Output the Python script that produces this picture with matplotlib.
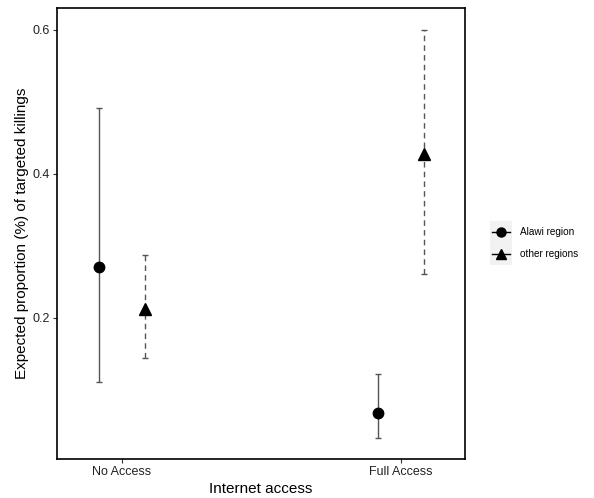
import numpy as np
import matplotlib
matplotlib.use("Agg")
import matplotlib.pyplot as plt
from matplotlib.lines import Line2D
from matplotlib.patches import Rectangle

plt.rcParams["font.family"] = ["Liberation Sans", "DejaVu Sans"]

access = ["No Access", "Full Access"]
groups = ["Alawi region", "other regions"]

alawi_est = [0.271, 0.068]
alawi_lo = [0.111, 0.033]
alawi_hi = [0.492, 0.122]

other_est = [0.212, 0.428]
other_lo = [0.144, 0.261]
other_hi = [0.287, 0.600]

fig = plt.figure(figsize=(5.94, 4.98), dpi=100)
ax = fig.add_axes([57 / 594, 1 - 459 / 498, 408 / 594, 451 / 498])

x = np.arange(1, len(access) + 1)
dodge = 0.083
series = [
    (alawi_est, alawi_lo, alawi_hi, "o", "-", -dodge, 7.5),
    (other_est, other_lo, other_hi, "^", (0, (4, 3)), dodge, 8),
]
for est, lo, hi, mk, ls, off, ms in series:
    est = np.array(est)
    yerr = [est - np.array(lo), np.array(hi) - est]
    eb = ax.errorbar(x + off, est, yerr=yerr, fmt="none", ecolor="#555555",
                     elinewidth=1.0, capsize=2.2, capthick=1.0)
    eb[2][0].set_linestyle(ls)
    ax.plot(x + off, est, linestyle="none", marker=mk, color="black",
            markersize=ms, zorder=3)

ax.set_xlim(0.767, 2.23)
ax.set_ylim(0.004, 0.6305)
ax.set_xticks(x)
ax.set_xticklabels(access)
ax.set_yticks([0.2, 0.4, 0.6])
ax.set_yticklabels(["0.2", "0.4", "0.6"])
ax.tick_params(labelsize=9, length=3, pad=2, color="#333333", labelcolor="#222222")
for s in ax.spines.values():
    s.set_linewidth(1.2)
    s.set_color("black")
ax.set_xlabel("Internet access", fontsize=11, labelpad=3)
ax.set_ylabel("Expected proportion (%) of targeted killings", fontsize=11, labelpad=3)

# legend keys with grey background
for i, (g, mk) in enumerate(zip(groups, ["o", "^"])):
    top = 221 + i * 22
    fig.patches.append(Rectangle((490 / 594, 1 - (top + 22) / 498), 22 / 594, 22 / 498,
                                 transform=fig.transFigure, facecolor="#f2f2f2",
                                 edgecolor="none"))
    yk = 1 - (top + 11) / 498
    fig.add_artist(Line2D([492 / 594, 510 / 594], [yk, yk], color="black",
                          linewidth=1.0, transform=fig.transFigure))
    fig.add_artist(Line2D([501 / 594], [yk], marker=mk, color="black",
                          markersize=6.5, transform=fig.transFigure))
    fig.text(520 / 594, yk, g, fontsize=7.2, va="center", ha="left")

fig.savefig("out.png", dpi=100)
